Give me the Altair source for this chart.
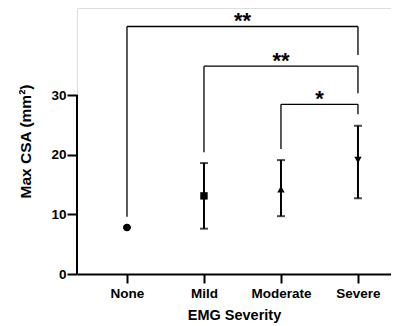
import altair as alt
import pandas as pd

categories = ["None", "Mild", "Moderate", "Severe"]
means = [7.8, 13.1, 14.2, 19.1]
err_low = [7.8, 7.6, 9.7, 12.7]
err_high = [7.8, 18.6, 19.1, 24.85]
shapes = ["circle", "square", "triangle-up", "triangle-down"]

br_left = ["None", "Mild", "Moderate"]
br_right = ["Severe", "Severe", "Severe"]
br_top = [41.5, 34.85, 28.45]
br_left_bottom = [9.6, 20.4, 20.95]
br_right_bottom = [36.7, 30.3, 26.8]
br_label = ["**", "**", "*"]

y_ticks = [0, 10, 20, 30]

idx = {c: i for i, c in enumerate(categories)}
df = pd.DataFrame({
    "cat": categories,
    "i": [idx[c] for c in categories],
    "mean": means,
    "lo": err_low,
    "hi": err_high,
})
br = pd.DataFrame({
    "x1": [idx[c] for c in br_left],
    "x2": [idx[c] for c in br_right],
    "top": br_top,
    "lb": br_left_bottom,
    "rb": br_right_bottom,
    "label": br_label,
})
br["mid"] = (br["x1"] + br["x2"]) / 2
axis_df = pd.DataFrame({"y0": [y_ticks[0]], "y1": [y_ticks[-1]]})

label_expr = "[" + ",".join(f"'{c}'" for c in categories) + "][datum.value]"

xscale = alt.Scale(domain=[-0.649, 3.429], nice=False, zero=False)
yscale = alt.Scale(domain=[0, 44.6], nice=False, zero=False)

x_enc = alt.X("i:Q", scale=xscale, axis=alt.Axis(
    values=[0, 1, 2, 3], labelExpr=label_expr, title="EMG Severity",
    grid=False, domainWidth=2, domainColor="black", tickWidth=2, tickSize=9,
    tickColor="black", labelFontSize=13.5, labelFontWeight="bold", labelColor="black",
    labelPadding=3, titleFontSize=14.5, titleFontWeight="bold", titleColor="black",
    titlePadding=9))
y_enc = alt.Y("mean:Q", scale=yscale, axis=alt.Axis(
    values=y_ticks, title="Max CSA (mm²)", grid=False, domain=False,
    tickWidth=2, tickSize=10, tickColor="black", labelFontSize=13.5,
    labelFontWeight="bold", labelColor="black", labelPadding=1,
    titleFontSize=15.5, titleFontWeight="bold", titleColor="black", titlePadding=17))

base = alt.Chart(df)

points = base.mark_point(filled=True, size=55, color="black", opacity=1).encode(
    x=x_enc, y=y_enc,
    shape=alt.Shape("cat:N", scale=alt.Scale(domain=categories, range=shapes), legend=None),
)
bars = base.mark_rule(color="black", strokeWidth=2).encode(
    x=alt.X("i:Q", scale=xscale), y=alt.Y("lo:Q", scale=yscale), y2="hi:Q")
cap_lo = base.mark_point(shape="stroke", size=64, color="black", strokeWidth=2).encode(
    x=alt.X("i:Q", scale=xscale), y=alt.Y("lo:Q", scale=yscale))
cap_hi = base.mark_point(shape="stroke", size=64, color="black", strokeWidth=2).encode(
    x=alt.X("i:Q", scale=xscale), y=alt.Y("hi:Q", scale=yscale))

yaxis_line = alt.Chart(axis_df).mark_rule(color="black", strokeWidth=2).encode(
    x=alt.value(0), y=alt.Y("y0:Q", scale=yscale), y2="y1:Q")

bc = alt.Chart(br)
br_h = bc.mark_rule(color="black", strokeWidth=1.3).encode(
    x=alt.X("x1:Q", scale=xscale), x2="x2:Q", y=alt.Y("top:Q", scale=yscale))
br_l = bc.mark_rule(color="black", strokeWidth=1.3).encode(
    x=alt.X("x1:Q", scale=xscale), y=alt.Y("lb:Q", scale=yscale), y2="top:Q")
br_r = bc.mark_rule(color="black", strokeWidth=1.3).encode(
    x=alt.X("x2:Q", scale=xscale), y=alt.Y("rb:Q", scale=yscale), y2="top:Q")
br_t = bc.mark_text(fontSize=22, fontWeight="bold", color="black", baseline="middle", dy=-5).encode(
    x=alt.X("mid:Q", scale=xscale), y=alt.Y("top:Q", scale=yscale), text="label:N")

chart = alt.layer(yaxis_line, br_h, br_l, br_r, br_t, bars, cap_lo, cap_hi, points).properties(
    width=314, height=266,
    autosize=alt.AutoSizeParams(type="none"),
    padding={"left": 69, "top": 0, "right": 0, "bottom": 50},
).configure_view(stroke=None).configure(font="Liberation Sans")

chart.save("out.html", embed_options={"renderer": "svg", "actions": False})
